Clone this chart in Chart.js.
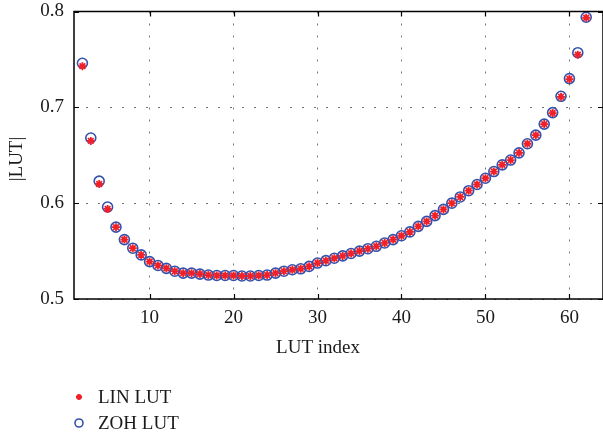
<!DOCTYPE html>
<html>
<head>
<meta charset="utf-8">
<script src="https://cdn.jsdelivr.net/npm/chart.js@4/dist/chart.umd.min.js"></script>
<style>
  html, body { margin: 0; padding: 0; background: #fff; }
</style>
</head>
<body>
<canvas id="chart" width="603" height="435"></canvas>
<script>
// LUT index 2..62
const lutIndex = [2, 3, 4, 5, 6, 7, 8, 9, 10, 11, 12, 13, 14, 15, 16, 17, 18, 19, 20, 21, 22, 23, 24, 25, 26, 27, 28, 29, 30, 31, 32, 33, 34, 35, 36, 37, 38, 39, 40, 41, 42, 43, 44, 45, 46, 47, 48, 49, 50, 51, 52, 53, 54, 55, 56, 57, 58, 59, 60, 61, 62];

const zohLut = [0.746, 0.668, 0.623, 0.596, 0.575, 0.562, 0.553, 0.546, 0.539, 0.535,
  0.532, 0.529, 0.527, 0.527, 0.526, 0.525, 0.5245, 0.5245, 0.5245, 0.524,
  0.524, 0.5245, 0.525, 0.527, 0.529, 0.5305, 0.5315, 0.534, 0.5375, 0.540,
  0.5425, 0.545, 0.5475, 0.550, 0.5525, 0.555, 0.5585, 0.562, 0.566, 0.570,
  0.5758, 0.581, 0.587, 0.5935, 0.600, 0.6065, 0.613, 0.6195, 0.626, 0.633,
  0.640, 0.645, 0.6525, 0.662, 0.671, 0.6825, 0.6945, 0.7115, 0.730, 0.757,
  0.794];

const linLut = [0.743, 0.665, 0.620, 0.594, 0.575, 0.562, 0.553, 0.546, 0.539, 0.535,
  0.532, 0.529, 0.527, 0.527, 0.526, 0.525, 0.5245, 0.5245, 0.5245, 0.524,
  0.524, 0.5245, 0.525, 0.527, 0.529, 0.5305, 0.5315, 0.534, 0.5375, 0.540,
  0.5425, 0.545, 0.5475, 0.550, 0.5525, 0.555, 0.5585, 0.562, 0.566, 0.570,
  0.5758, 0.581, 0.587, 0.5935, 0.600, 0.6065, 0.613, 0.6195, 0.626, 0.633,
  0.640, 0.645, 0.6525, 0.662, 0.671, 0.6825, 0.694, 0.711, 0.7295, 0.755,
  0.7935];

const xTicks = [10, 20, 30, 40, 50, 60];
const yTicks = [0.5, 0.6, 0.7, 0.8];
const xTitle = 'LUT index';
const yTitle = '|LUT|';

const RED = 'rgb(240, 32, 40)';
const BLUE = 'rgb(52, 82, 172)';
const TEXT = '#1a1a1a';
const FONT = "'Liberation Serif', 'DejaVu Serif', serif";

// box around the plot, inward ticks, axis titles and the stacked legend
const framePlugin = {
    id: 'frame',
    afterDraw(chart) {
        const ctx = chart.ctx;
        const a = chart.chartArea;
        const xs = chart.scales.x;
        const ys = chart.scales.y;
        ctx.save();
        ctx.strokeStyle = '#000';
        ctx.lineWidth = 1.5;
        ctx.strokeRect(a.left, a.top, a.right - a.left, a.bottom - a.top);
        ctx.lineWidth = 1.2;
        ctx.beginPath();
        xTicks.forEach((v) => {
            const px = Math.round(xs.getPixelForValue(v)) + 0.5;
            ctx.moveTo(px, a.bottom); ctx.lineTo(px, a.bottom - 5);
            ctx.moveTo(px, a.top); ctx.lineTo(px, a.top + 5);
        });
        yTicks.forEach((v) => {
            const py = Math.round(ys.getPixelForValue(v)) + 0.5;
            ctx.moveTo(a.left, py); ctx.lineTo(a.left + 5, py);
            ctx.moveTo(a.right, py); ctx.lineTo(a.right - 5, py);
        });
        ctx.stroke();

        // axis titles
        ctx.font = '19px ' + FONT;
        ctx.fillStyle = TEXT;
        ctx.textAlign = 'center';
        ctx.textBaseline = 'middle';
        ctx.fillText(xTitle, 318, 348);
        ctx.save();
        ctx.translate(17, 159);
        ctx.rotate(-Math.PI / 2);
        ctx.fillText(yTitle, 0, 0);
        ctx.restore();

        // legend
        ctx.textAlign = 'left';
        chart.data.datasets.forEach((ds, i) => {
            const y = 397 + i * 26;
            ctx.strokeStyle = ds.borderColor;
            ctx.fillStyle = ds.backgroundColor;
            ctx.lineWidth = ds.borderWidth;
            Chart.helpers.drawPoint(ctx, {
                pointStyle: ds.pointStyle,
                radius: ds.pointRadius - 1,
                borderWidth: ds.borderWidth
            }, 79, y);
            ctx.fillStyle = TEXT;
            ctx.fillText(ds.label, 98, y + 1);
        });
        ctx.restore();
    }
};

const ctx = document.getElementById('chart').getContext('2d');
new Chart(ctx, {
    type: 'scatter',
    data: {
        datasets: [
            {
                label: 'LIN LUT',
                data: lutIndex.map((x, i) => ({ x: x, y: linLut[i] })),
                pointStyle: 'star',
                pointRadius: 4,
                borderWidth: 1.8,
                borderColor: RED,
                backgroundColor: RED,
                order: 0,
            },
            {
                label: 'ZOH LUT',
                data: lutIndex.map((x, i) => ({ x: x, y: zohLut[i] })),
                pointStyle: 'circle',
                pointRadius: 5,
                borderWidth: 1.6,
                borderColor: BLUE,
                backgroundColor: 'rgba(0,0,0,0)',
                order: 1,
            },
        ],
    },
    options: {
        responsive: false,
        animation: false,
        // right edge of the axes box sits just past the picture edge
        layout: { autoPadding: false, padding: { top: 11.5, right: -1, bottom: 0, left: 0 } },
        plugins: {
            legend: { display: false },
            tooltip: { enabled: false },
        },
        scales: {
            x: {
                type: 'linear',
                min: 1,
                max: 64,
                afterBuildTicks: (s) => { s.ticks = xTicks.map((v) => ({ value: v })); },
                afterFit: (s) => {
                    s.height = 136;
                    s.paddingLeft = 0; s.paddingRight = 0;
                },
                ticks: {
                    color: TEXT,
                    font: { family: FONT, size: 19 },
                    padding: 8,
                    maxRotation: 0,
                },
                grid: { color: '#777', lineWidth: 1, drawTicks: false },
                border: { display: false, dash: [2, 10] },
            },
            y: {
                type: 'linear',
                min: 0.5,
                max: 0.8,
                afterBuildTicks: (s) => { s.ticks = yTicks.map((v) => ({ value: v })); },
                afterFit: (s) => {
                    s.width = 74;
                    s.paddingTop = 0; s.paddingBottom = 0;
                },
                ticks: {
                    color: TEXT,
                    font: { family: FONT, size: 19 },
                    padding: 10,
                    callback: (v) => Number(v).toFixed(1),
                },
                grid: { color: '#777', lineWidth: 1, drawTicks: false },
                border: { display: false, dash: [2, 10] },
            },
        },
    },
    plugins: [framePlugin],
});
</script>
</body>
</html>
